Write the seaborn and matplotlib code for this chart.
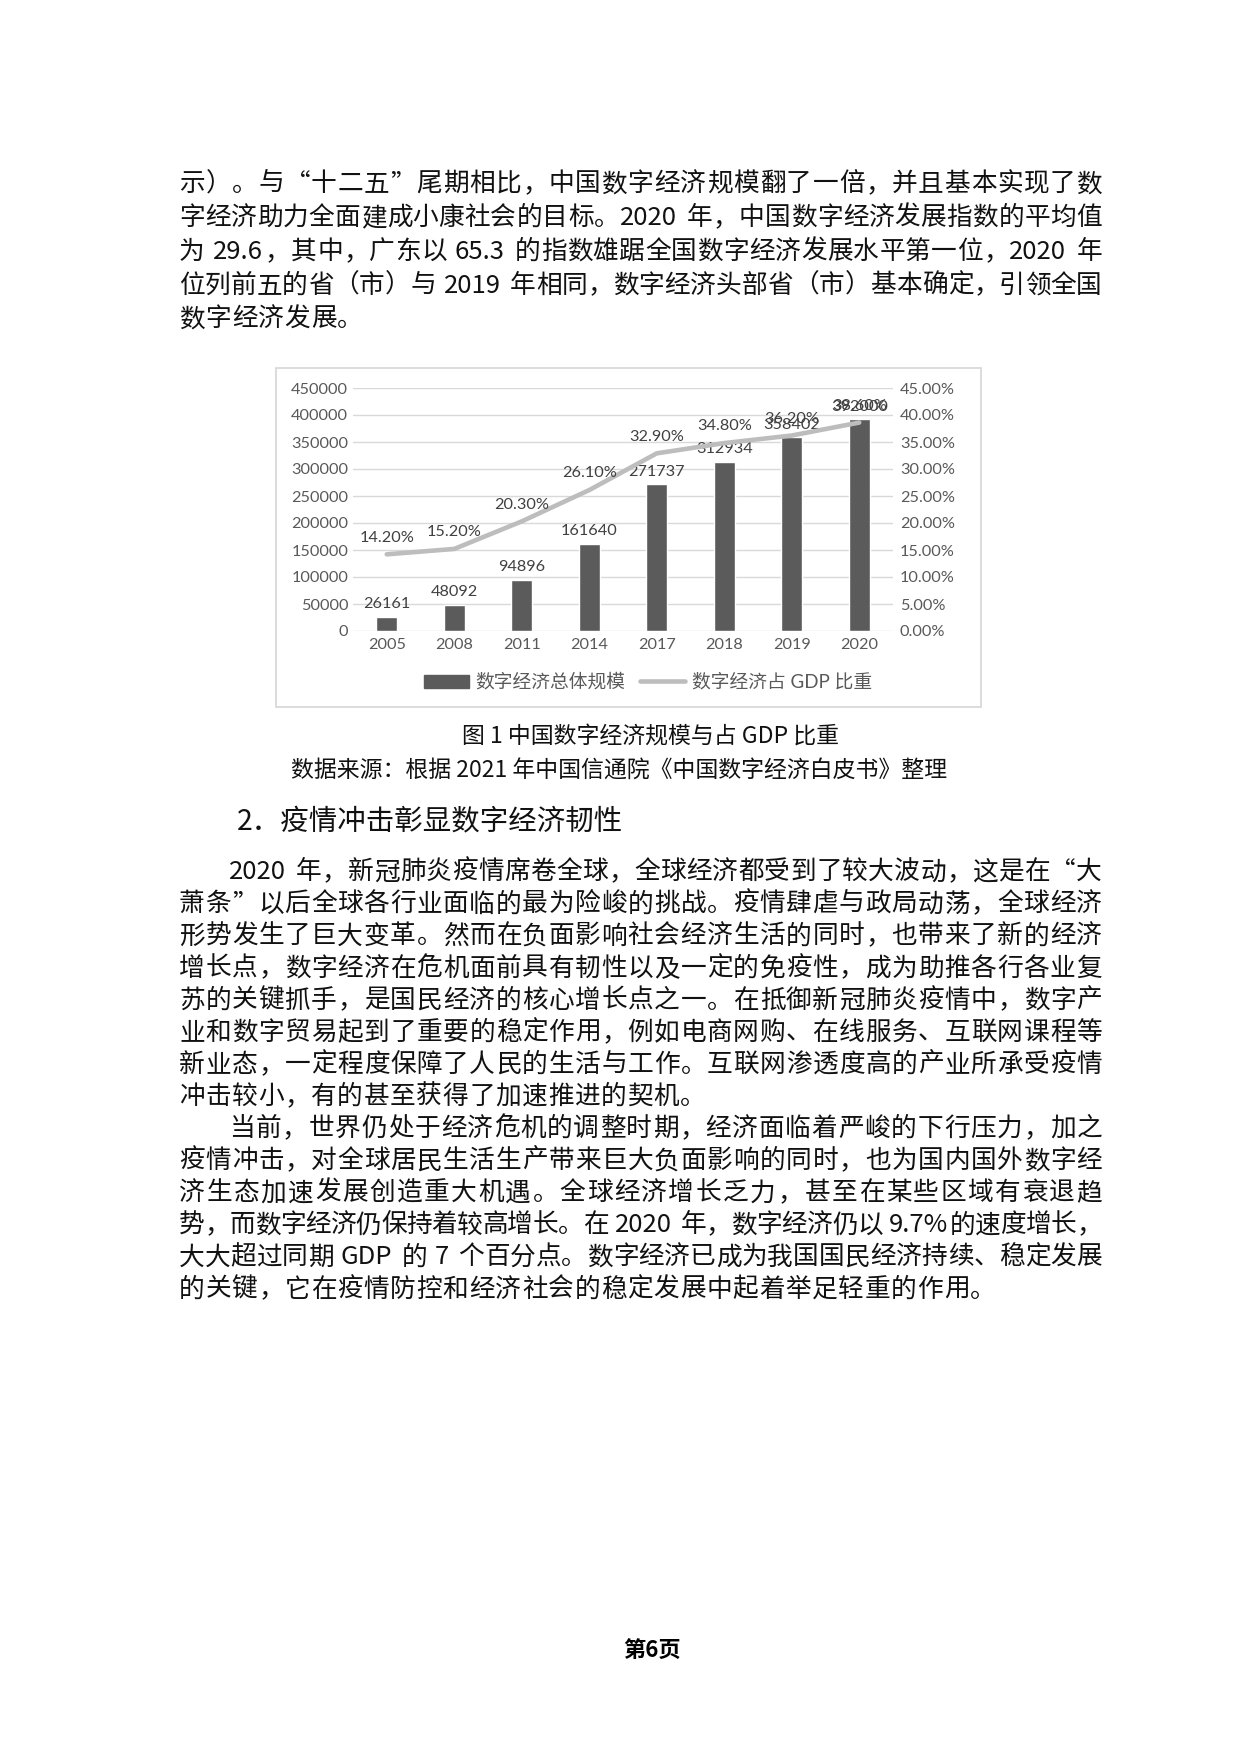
import re
import numpy as np
import pandas as pd
import matplotlib
matplotlib.use("Agg")
import matplotlib.pyplot as plt
import seaborn as sns
from matplotlib.font_manager import FontProperties
from matplotlib.patches import Rectangle, Patch
from matplotlib.lines import Line2D
from matplotlib.ticker import FuncFormatter

# ---------------- data ----------------
years = ["2005", "2008", "2011", "2014", "2017", "2018", "2019", "2020"]
scale = [26161, 48092, 94896, 161640, 271737, 312934, 358402, 392000]
share = [14.2, 15.2, 20.3, 26.1, 32.9, 34.8, 36.2, 38.6]
series_names = ["数字经济总体规模", "数字经济占 GDP 比重"]
left_ticks = [0, 50000, 100000, 150000, 200000, 250000, 300000, 350000, 400000, 450000]
right_ticks = [0, 5, 10, 15, 20, 25, 30, 35, 40, 45]

para1 = [
    "示）。与“十二五”尾期相比，中国数字经济规模翻了一倍，并且基本实现了数",
    "字经济助力全面建成小康社会的目标。2020 年，中国数字经济发展指数的平均值",
    "为 29.6，其中，广东以 65.3 的指数雄踞全国数字经济发展水平第一位，2020 年",
    "位列前五的省（市）与 2019 年相同，数字经济头部省（市）基本确定，引领全国",
    "数字经济发展。",
]
caption = "图 1 中国数字经济规模与占 GDP 比重"
source = "数据来源：根据 2021 年中国信通院《中国数字经济白皮书》整理"
heading = "2．疫情冲击彰显数字经济韧性"
para2 = [
    "2020 年，新冠肺炎疫情席卷全球，全球经济都受到了较大波动，这是在“大",
    "萧条”以后全球各行业面临的最为险峻的挑战。疫情肆虐与政局动荡，全球经济",
    "形势发生了巨大变革。然而在负面影响社会经济生活的同时，也带来了新的经济",
    "增长点，数字经济在危机面前具有韧性以及一定的免疫性，成为助推各行各业复",
    "苏的关键抓手，是国民经济的核心增长点之一。在抵御新冠肺炎疫情中，数字产",
    "业和数字贸易起到了重要的稳定作用，例如电商网购、在线服务、互联网课程等",
    "新业态，一定程度保障了人民的生活与工作。互联网渗透度高的产业所承受疫情",
    "冲击较小，有的甚至获得了加速推进的契机。",
]
para3 = [
    "当前，世界仍处于经济危机的调整时期，经济面临着严峻的下行压力，加之",
    "疫情冲击，对全球居民生活生产带来巨大负面影响的同时，也为国内国外数字经",
    "济生态加速发展创造重大机遇。全球经济增长乏力，甚至在某些区域有衰退趋",
    "势，而数字经济仍保持着较高增长。在 2020 年，数字经济仍以 9.7%的速度增长，",
    "大大超过同期 GDP 的 7 个百分点。数字经济已成为我国国民经济持续、稳定发展",
    "的关键，它在疫情防控和经济社会的稳定发展中起着举足轻重的作用。",
]
page_label = "第6页"

# ---------------- styling ----------------
sns.set_style("white")
plt.rcParams["font.family"] = ["Lato", "Noto Sans CJK SC", "DejaVu Sans"]

W, H, DPI = 1240, 1754, 100
BAR = "#5B5B5B"
LINE = "#BDBDBD"
TICK = "#595959"
LABEL = "#404040"
TEXT = "#111111"

fig = plt.figure(figsize=(W / DPI, H / DPI), dpi=DPI)
fig.patch.set_facecolor("white")
renderer = fig.canvas.get_renderer()

CJK = ["Noto Sans CJK SC", "DejaVu Sans"]
body_fp = FontProperties(family=CJK, size=18.5)


def fx(x):
    return x / W


def fy(y):
    return 1 - y / H


def is_wide(ch):
    o = ord(ch)
    return o >= 0x2E80 or ch in "“”‘’"


def tok_width(t, fp):
    em = fp.get_size_in_points() * DPI / 72
    if t == " ":
        return 0.28 * em
    if len(t) == 1 and is_wide(t):
        return em
    w, h, d = renderer.get_text_width_height_descent(t, fp, ismath=False)
    return w + 0.08 * em


X0, X1 = 179, 1102
PITCH = (X1 - X0) / 35.0


def draw_line(text, yc, x0, fp, justify):
    toks = re.findall(r"[A-Za-z0-9.%]+| |.", text)
    ws = [tok_width(t, fp) for t in toks]
    em = fp.get_size_in_points() * DPI / 72
    if justify and len(toks) > 1:
        gap = (X1 - x0 - sum(ws)) / (len(toks) - 1)
    else:
        gap = PITCH - em
    base = yc + 0.36 * em
    x = x0
    for t, w in zip(toks, ws):
        if t != " ":
            fig.text(fx(x), fy(base), t, fontproperties=fp, ha="left",
                     va="baseline", color=TEXT)
        x += w + gap


def draw_para(lines, y_start, step, indent):
    for i, ln in enumerate(lines):
        x0 = X0 + (indent if i == 0 else 0)
        draw_line(ln, y_start + i * step, x0, body_fp, justify=(i < len(lines) - 1))


draw_para(para1, 182, 33.8, 0)
draw_para(para2, 870, 32.1, 50)
draw_para(para3, 870 + 8 * 32.1, 32.1, 50)

# ---------------- chart ----------------
fig.patches.append(Rectangle((fx(276), fy(707)), (981 - 276) / W, (707 - 368) / H,
                             transform=fig.transFigure, fill=False,
                             edgecolor="#D9D9D9", linewidth=1.3))

ax = fig.add_axes([fx(353), fy(631), (893 - 353) / W, (631 - 388) / H])
df = pd.DataFrame({"year": years, "scale": scale, "share": share})
sns.barplot(data=df, x="year", y="scale", color=BAR, width=0.31,
            saturation=1, ax=ax, zorder=2)
ax.set_axisbelow(True)
ax.set_ylim(0, 450000)
ax.set_yticks(left_ticks)
ax.set_yticklabels([str(v) for v in left_ticks])
ax.yaxis.grid(True, color="#D9D9D9", linewidth=1.0)
ax.xaxis.grid(False)
ax.set_xlabel("")
ax.set_ylabel("")
for s in ax.spines.values():
    s.set_visible(False)
ax.tick_params(axis="both", length=0, labelsize=11.7, labelcolor=TICK)
ax.tick_params(axis="y", pad=3.5)
ax.tick_params(axis="x", pad=5)
ax.bar_label(ax.containers[0], labels=[str(v) for v in scale], padding=4,
             fontsize=11.7, color=LABEL)

ax2 = ax.twinx()
sns.lineplot(x=np.arange(len(years)), y=share, ax=ax2, color=LINE,
             linewidth=3.3, zorder=3, solid_capstyle="round")
ax2.set_ylim(0, 45)
ax2.set_yticks(right_ticks)
ax2.yaxis.set_major_formatter(FuncFormatter(lambda v, p: f"{v:.2f}%"))
ax2.grid(False)
ax2.set_ylabel("")
ax2.set_xlabel("")
for s in ax2.spines.values():
    s.set_visible(False)
ax2.tick_params(axis="y", length=0, labelsize=11.7, labelcolor=TICK, pad=5)
for i, v in enumerate(share):
    ax2.annotate(f"{v:.2f}%", (i, v), xytext=(0, 12), textcoords="offset points",
                 ha="center", va="center", fontsize=11.7, color=LABEL)
ax.set_xlim(-0.5, len(years) - 0.5)

handles = [Patch(facecolor=BAR, edgecolor=BAR),
           Line2D([0], [0], color=LINE, linewidth=3.3)]
leg = fig.legend(handles=handles, labels=series_names, loc="center",
                 bbox_to_anchor=(fx(648), fy(682)), ncol=2, frameon=False,
                 prop=FontProperties(family=["Lato", "Noto Sans CJK SC"], size=13.5),
                 handlelength=2.4, handletextpad=0.35, columnspacing=0.8)
for t in leg.get_texts():
    t.set_color(TICK)

# ---------------- captions & heading ----------------
cap_fp = FontProperties(family=CJK, size=16.5)
fig.text(fx(650), fy(737), caption, fontproperties=cap_fp, ha="center",
         va="center", color=TEXT)
fig.text(fx(619), fy(771), source, fontproperties=cap_fp, ha="center",
         va="center", color=TEXT)
fig.text(fx(237), fy(821), heading,
         fontproperties=FontProperties(family=CJK, size=20.5),
         ha="left", va="center", color=TEXT)
fig.text(fx(652), fy(1650), page_label,
         fontproperties=FontProperties(family=CJK, size=16, weight="bold"),
         ha="center", va="center", color="#000000")

fig.savefig("out.png", dpi=DPI, facecolor="white")
